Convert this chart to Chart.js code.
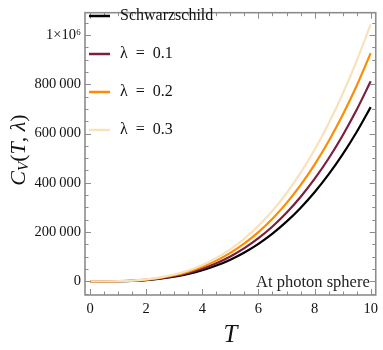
<!DOCTYPE html>
<html>
<head>
<meta charset="utf-8">
<script src="https://cdn.jsdelivr.net/npm/chart.js@4/dist/chart.umd.min.js"></script>
<style>
  html, body { margin: 0; padding: 0; background: #fff; }
  #wrap { width: 383px; height: 350px; }
</style>
</head>
<body>
<div id="wrap"><canvas id="chartCv"></canvas></div>
<script>
// temperature samples
var temps = [0, 0.5, 1, 1.5, 2, 2.5, 3, 3.5, 4, 4.5, 5, 5.5, 6, 6.5, 7, 7.5, 8, 8.5, 9, 9.5, 10];

// heat capacity
var cvSchwarzschild = [0, 90, 700, 2400, 5700, 11000, 19100, 30300, 45200, 64400, 88400, 117600, 152700, 194200, 242500, 298300, 362000, 434200, 515400, 606200, 707000];
var cvLambda01 = [0, 100, 810, 2740, 6500, 12700, 21900, 34800, 52000, 74000, 101500, 135100, 175400, 223000, 278500, 342600, 415700, 498700, 592000, 696200, 812000];
var cvLambda02 = [0, 120, 930, 3130, 7400, 14500, 25000, 39700, 59300, 84400, 115800, 154100, 200000, 254300, 317600, 390700, 474100, 568700, 675100, 793900, 926000];
var cvLambda03 = [0, 130, 1040, 3520, 8300, 16300, 28200, 44700, 66800, 95000, 130400, 173500, 225300, 286400, 357700, 440000, 534000, 640500, 760300, 894200, 1043000];

var seriesNames = ["Schwarzschild", "\u03bb\u2002=\u20020.1", "\u03bb\u2002=\u20020.2", "\u03bb\u2002=\u20020.3"];
var seriesColors = ["#000000", "#7b1e3f", "#ff8c00", "#f8e1bd"];

var xTicks = [0, 2, 4, 6, 8, 10];
var yTicks = [0, 200000, 400000, 600000, 800000, 1000000];

var serif = "'Liberation Serif', 'DejaVu Serif', serif";
var frameColor = "#8c8c8c";

function makePoints(values) {
    return temps.map(function (t, i) {
        return { x: t, y: values[i] };
    });
}

function makeDataset(idx, values) {
    return {
        label: seriesNames[idx],
        data: makePoints(values),
        borderColor: seriesColors[idx],
        backgroundColor: seriesColors[idx],
        borderWidth: 2.2,
        pointRadius: 0,
        fill: false,
        cubicInterpolationMode: 'monotone',
        order: 4 - idx
    };
}

function fmtY(v) {
    if (v === 1000000) return "1\u00d710\u2076";
    if (v === 0) return "0";
    var s = String(v);
    return s.slice(0, s.length - 3) + "\u2009" + s.slice(s.length - 3);
}

// frame, inward ticks, legend, axis titles
var decorPlugin = {
    id: 'decor',
    afterDraw: function (chart) {
        var ctx = chart.ctx;
        var a = chart.chartArea;
        var xs = chart.scales.x;
        var ys = chart.scales.y;
        ctx.save();

        ctx.strokeStyle = frameColor;
        ctx.lineWidth = 1;
        var v, p, len;
        for (v = 0; v <= 10.001; v += 0.5) {
            p = Math.round(xs.getPixelForValue(v)) + 0.5;
            len = (Math.abs(v % 2) < 0.001) ? 6 : 3.5;
            ctx.beginPath();
            ctx.moveTo(p, a.bottom); ctx.lineTo(p, a.bottom - len);
            ctx.moveTo(p, a.top); ctx.lineTo(p, a.top + len);
            ctx.stroke();
        }
        for (v = -50000; v <= 1050000; v += 50000) {
            p = Math.round(ys.getPixelForValue(v)) + 0.5;
            len = (v % 200000 === 0) ? 6 : 3.5;
            ctx.beginPath();
            ctx.moveTo(a.left, p); ctx.lineTo(a.left + len, p);
            ctx.moveTo(a.right, p); ctx.lineTo(a.right - len, p);
            ctx.stroke();
        }

        ctx.lineWidth = 1.6;
        ctx.strokeRect(a.left, a.top, a.right - a.left, a.bottom - a.top);

        // legend
        ctx.font = "16px " + serif;
        ctx.textBaseline = 'middle';
        ctx.textAlign = 'left';
        for (var i = 0; i < seriesNames.length; i++) {
            var ly = 16 + i * 38;
            ctx.strokeStyle = seriesColors[i];
            ctx.lineWidth = 2.5;
            ctx.beginPath();
            ctx.moveTo(89, ly); ctx.lineTo(110, ly);
            ctx.stroke();
            ctx.fillStyle = '#111';
            ctx.fillText(seriesNames[i], 120, ly);
        }

        // annotation
        ctx.font = "16.5px " + serif;
        ctx.textAlign = 'right';
        ctx.fillStyle = '#222';
        ctx.fillText("At photon sphere", a.right - 6, 283);

        // y title with subscript
        ctx.translate(19, 150);
        ctx.rotate(-Math.PI / 2);
        ctx.fillStyle = '#111';
        ctx.textAlign = 'left';
        ctx.textBaseline = 'middle';
        var big = "italic 22px " + serif;
        var small = "italic 15px " + serif;
        var parts = [["C", big, 0], ["V", small, 5], ["(", "22px " + serif, 0], ["T", big, 0], [", ", "22px " + serif, 0], ["\u03bb", big, 0], [")", "22px " + serif, 0]];
        var total = 0;
        parts.forEach(function (pt) { ctx.font = pt[1]; total += ctx.measureText(pt[0]).width; });
        var cx = -total / 2;
        parts.forEach(function (pt) {
            ctx.font = pt[1];
            ctx.fillText(pt[0], cx, pt[2]);
            cx += ctx.measureText(pt[0]).width;
        });

        ctx.restore();
    }
};

var cvChart = new Chart(document.getElementById('chartCv').getContext('2d'), {
    type: 'line',
    data: {
        datasets: [
            makeDataset(0, cvSchwarzschild),
            makeDataset(1, cvLambda01),
            makeDataset(2, cvLambda02),
            makeDataset(3, cvLambda03)
        ]
    },
    options: {
        responsive: true,
        maintainAspectRatio: false,
        animation: false,
        layout: { padding: { top: 2, right: 3, left: 0, bottom: 0 } },
        plugins: {
            legend: { display: false },
            tooltip: { enabled: false }
        },
        scales: {
            x: {
                type: 'linear',
                min: -0.18,
                max: 10.18,
                grid: { display: false, drawTicks: false },
                border: { display: false },
                afterBuildTicks: function (scale) {
                    scale.ticks = xTicks.map(function (t) { return { value: t }; });
                },
                afterFit: function (scale) { scale.height = 55; },
                ticks: {
                    padding: 5,
                    maxRotation: 0,
                    color: '#111',
                    font: { family: serif, size: 14.5 }
                },
                title: {
                    display: true,
                    text: 'T',
                    color: '#111',
                    padding: { top: 5, bottom: 0 },
                    font: { family: serif, size: 25, style: 'italic' }
                }
            },
            y: {
                type: 'linear',
                min: -55000,
                max: 1090000,
                grid: { display: false, drawTicks: false },
                border: { display: false },
                afterBuildTicks: function (scale) {
                    scale.ticks = yTicks.map(function (t) { return { value: t }; });
                },
                afterFit: function (scale) { scale.width = 85; },
                ticks: {
                    padding: 4,
                    color: '#111',
                    font: { family: serif, size: 14.5 },
                    callback: function (v) { return fmtY(v); }
                }
            }
        }
    },
    plugins: [decorPlugin]
});
</script>
</body>
</html>
